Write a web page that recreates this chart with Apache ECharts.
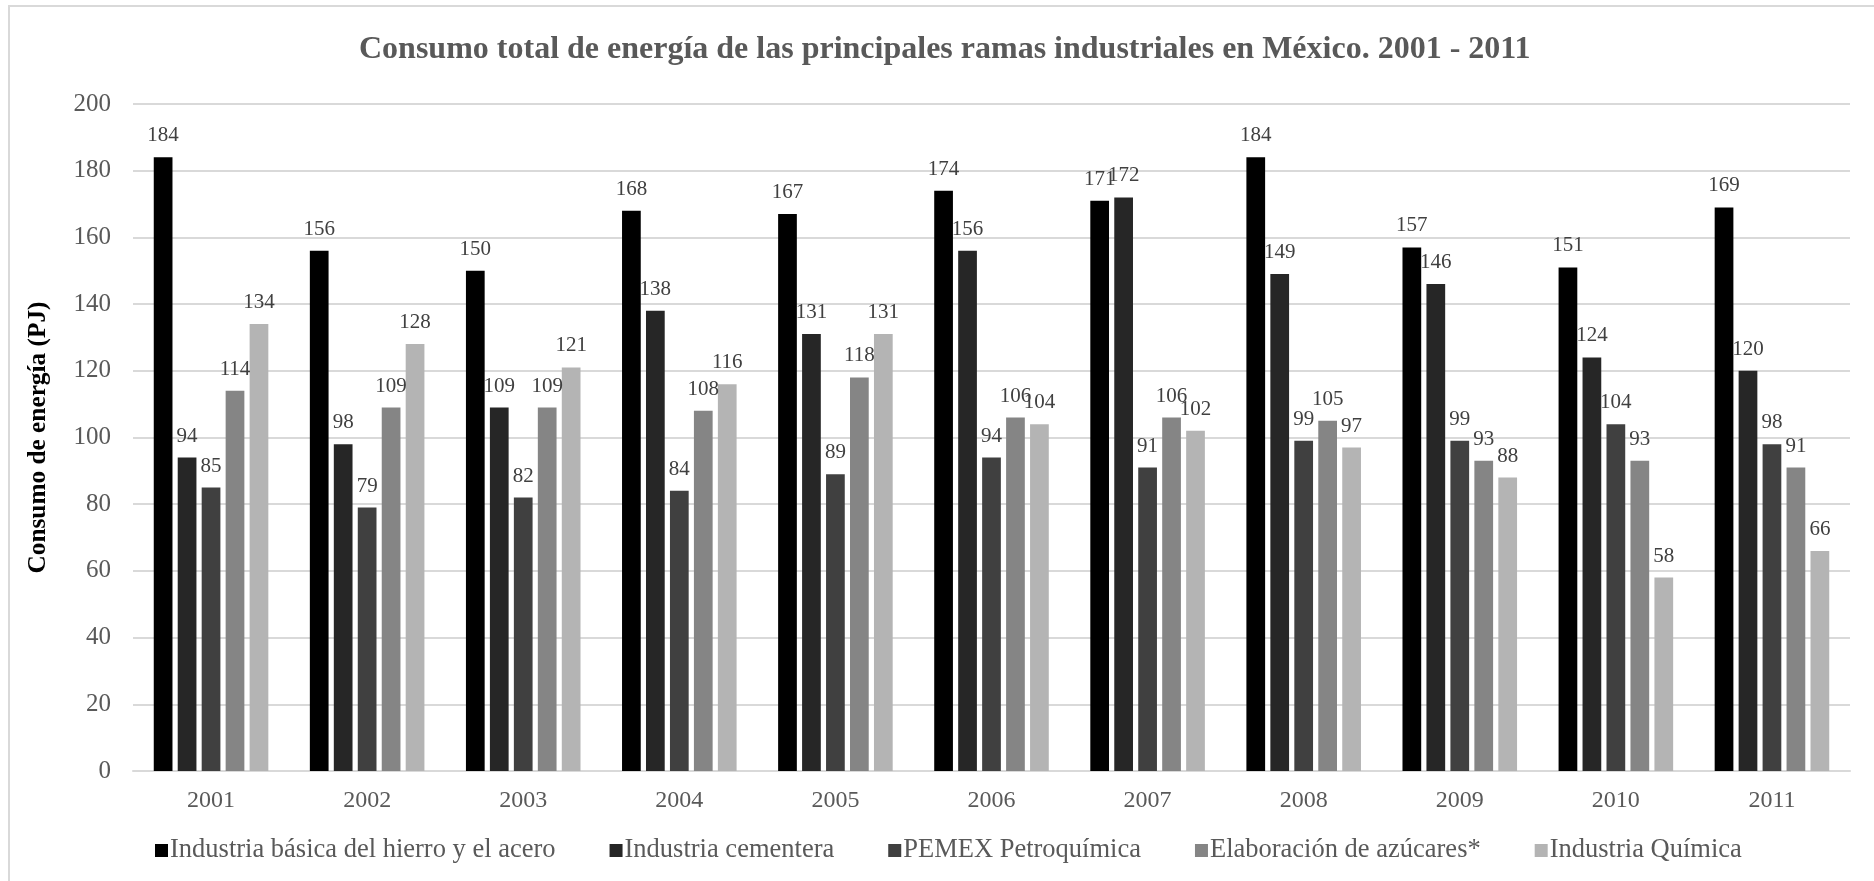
<!DOCTYPE html>
<html>
<head>
<meta charset="utf-8">
<style>
  html, body { margin: 0; padding: 0; background: #ffffff; }
  #chart { width: 1874px; height: 881px; }
</style>
<script src="https://cdn.jsdelivr.net/npm/echarts@6/dist/echarts.min.js"></script>
</head>
<body>
<div id="chart"></div>
<script>
// Años (categorías del eje X)
const years = ['2001', '2002', '2003', '2004', '2005', '2006', '2007', '2008', '2009', '2010', '2011'];

// Consumo de energía por rama industrial (PJ)
const hierroAcero = [184, 156, 150, 168, 167, 174, 171, 184, 157, 151, 169];
const cementera   = [94, 98, 109, 138, 131, 156, 172, 149, 146, 124, 120];
const pemexPetro  = [85, 79, 82, 84, 89, 94, 91, 99, 99, 104, 98];
const azucares    = [114, 109, 109, 108, 118, 106, 106, 105, 93, 93, 91];
const quimica     = [134, 128, 121, 116, 131, 104, 102, 97, 88, 58, 66];

const seriesNames = [
  'Industria básica del hierro y el acero',
  'Industria cementera',
  'PEMEX Petroquímica',
  'Elaboración de azúcares*',
  'Industria Química'
];
const seriesData = [hierroAcero, cementera, pemexPetro, azucares, quimica];
const seriesColors = ['#000000', '#262626', '#404040', '#858585', '#b4b4b4'];

const FONT = '"Liberation Serif", "Times New Roman", serif';

const chart = echarts.init(document.getElementById('chart'), null, { renderer: 'canvas' });

const series = seriesData.map((data, i) => ({
  name: seriesNames[i],
  type: 'bar',
  data: data,
  barGap: '28%',
  barCategoryGap: '26.6%',
  itemStyle: { color: seriesColors[i] },
  label: {
    show: true,
    position: 'top',
    distance: 11,
    fontFamily: FONT,
    fontSize: 21,
    color: '#404040'
  }
}));

chart.setOption({
  backgroundColor: '#ffffff',
  animation: false,
  graphic: [{
    type: 'rect',
    shape: { x: 9, y: 6, width: 1900, height: 900 },
    style: { fill: 'none', stroke: '#d9d9d9', lineWidth: 2 },
    silent: true,
    z: -1
  }],
  title: {
    text: 'Consumo total de energía de las principales ramas industriales en México. 2001 - 2011',
    left: 354,
    top: 29,
    textStyle: {
      fontFamily: FONT,
      fontWeight: 'bold',
      fontSize: 32,
      color: '#595959'
    }
  },
  legend: {
    data: seriesNames,
    left: 150,
    top: 832,
    itemWidth: 13,
    itemHeight: 13,
    itemGap: 54,
    icon: 'rect',
    textStyle: {
      fontFamily: FONT,
      fontSize: 26.5,
      color: '#595959',
      padding: [0, 0, 0, -3]
    }
  },
  grid: {
    left: 133,
    right: 24,
    top: 104,
    bottom: 110,
    containLabel: false
  },
  xAxis: {
    type: 'category',
    data: years,
    axisLine: { show: true, lineStyle: { color: '#d9d9d9', width: 2 } },
    axisTick: { show: false },
    axisLabel: {
      fontFamily: FONT,
      fontSize: 24,
      color: '#595959',
      margin: 18
    }
  },
  yAxis: {
    type: 'value',
    min: 0,
    max: 200,
    interval: 20,
    name: 'Consumo de energía (PJ)',
    nameLocation: 'middle',
    nameRotate: 90,
    nameGap: 82,
    nameTextStyle: {
      fontFamily: FONT,
      fontWeight: 'bold',
      fontSize: 25.3,
      color: '#000000'
    },
    axisLine: { show: false },
    axisTick: { show: false },
    splitLine: { lineStyle: { color: '#d9d9d9', width: 2 } },
    axisLabel: {
      fontFamily: FONT,
      fontSize: 25,
      color: '#595959',
      margin: 22
    }
  },
  series: series
});
</script>
</body>
</html>
